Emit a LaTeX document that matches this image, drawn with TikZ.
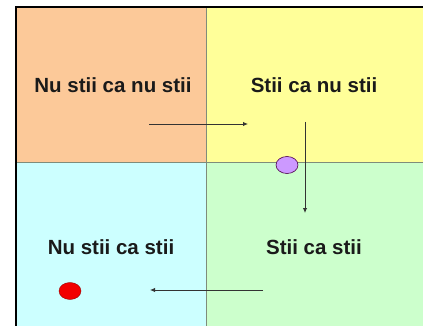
\documentclass[tikz,border=0pt]{standalone}
\usepackage{fontspec}
\setmainfont{Liberation Sans}
\usetikzlibrary{arrows.meta}
\definecolor{qorange}{HTML}{FCC999}
\definecolor{qyellow}{HTML}{FFFF99}
\definecolor{qcyan}{HTML}{CCFFFF}
\definecolor{qgreen}{HTML}{CCFFCC}
\definecolor{qline}{HTML}{7F8C7A}
\definecolor{qpurple}{HTML}{CC99FF}
\definecolor{qtext}{HTML}{1A1A1A}
\tikzset{
  lbl/.style={font=\fontsize{20.5}{24}\selectfont\bfseries, text=qtext, inner sep=0pt, anchor=base},
  flow/.style={draw=black!80, line width=0.9pt, -{Latex[length=5pt,width=4.5pt]}},
  dot/.style={ellipse, minimum width=22pt, minimum height=17pt, inner sep=0pt}
}
\usetikzlibrary{shapes.geometric}
\begin{document}
\begin{tikzpicture}[x=1pt,y=-1pt]
\useasboundingbox (0,0) rectangle (423,326);
\fill[white] (0,0) rectangle (423,326);
\fill[qorange] (17,8) rectangle (206,163);
\fill[qyellow] (206,8) rectangle (423,163);
\fill[qcyan] (17,163) rectangle (206,326);
\fill[qgreen] (206,163) rectangle (423,326);
\draw[qline, line width=1pt] (206,8) -- (206,326);
\draw[qline, line width=1pt] (17,163) -- (423,163);
\draw[black, line width=2pt] (16,326) -- (16,7) -- (423,7);
\node[lbl] (a) at (113,93) {Nu stii ca nu stii};
\node[lbl] (b) at (314,93) {Stii ca nu stii};
\node[lbl] (c) at (111,254) {Nu stii ca stii};
\node[lbl] (d) at (314,254) {Stii ca stii};
\coordinate (h1) at (149,124);
\coordinate (h2) at (248,124);
\coordinate (v1) at (305,122);
\coordinate (v2) at (305,213);
\coordinate (b1) at (263,290);
\coordinate (b2) at (150,290);
\draw[flow] (h1) -- (h2);
\draw[flow] (v1) -- (v2);
\draw[flow] (b1) -- (b2);
\node[dot, fill=qpurple, draw=violet!60!black, line width=0.6pt] (p) at (287,165) {};
\node[dot, fill=red!95!black, draw=red!60!black, line width=0.4pt] (r) at (70,291) {};
\end{tikzpicture}
\end{document}
